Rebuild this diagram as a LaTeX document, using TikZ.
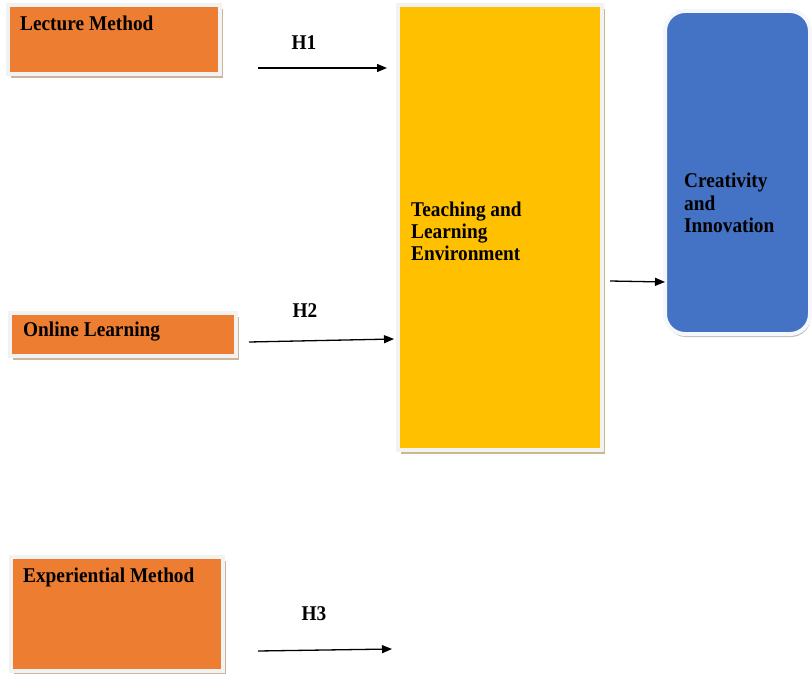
\documentclass[tikz,border=0pt]{standalone}
\usepackage{fontspec}
\setmainfont{Liberation Serif}[FakeStretch=0.92]
\usetikzlibrary{arrows.meta,shadows}
\definecolor{boxorange}{HTML}{ED7D31}
\definecolor{boxyellow}{HTML}{FFC000}
\definecolor{boxblue}{HTML}{4472C4}
\definecolor{framegray}{HTML}{F2F2F2}
\definecolor{tanshadow}{HTML}{CFB49C}
\definecolor{yelshadow}{HTML}{C9BA8C}
\definecolor{blueshadow}{HTML}{BDBDBD}
\tikzset{
  box/.style={draw=framegray, line width=4pt, inner sep=0pt, outer sep=0pt},
  orangebox/.style={box, fill=boxorange,
    drop shadow={shadow xshift=3pt, shadow yshift=-4pt, fill=tanshadow, opacity=1}},
  yellowbox/.style={box, fill=boxyellow,
    drop shadow={shadow xshift=3pt, shadow yshift=-4pt, fill=yelshadow, opacity=1}},
  bluebox/.style={box, draw=framegray!80!boxblue!20, fill=boxblue, rounded corners=20pt,
    drop shadow={shadow xshift=1pt, shadow yshift=-3pt, fill=blueshadow, opacity=1}},
  txt/.style={inner sep=0pt, anchor=base west, align=left,
    font=\bfseries\fontsize{21}{22.5}\selectfont},
  hyp/.style={inner sep=0pt, anchor=base,
    font=\bfseries\fontsize{21}{22.5}\selectfont},
  arr/.style={line width=1.3pt, -{Triangle[length=10pt,width=8pt]}}
}
\begin{document}
\begin{tikzpicture}[x=1pt,y=-1pt]
\useasboundingbox (0,0) rectangle (812,674);
% boxes
\node[orangebox, minimum width=212pt, minimum height=69pt] (lec) at (114,39.5) {};
\node[orangebox, minimum width=226pt, minimum height=43pt] (onl) at (123,334.5) {};
\node[orangebox, minimum width=212pt, minimum height=114pt] (exp) at (117,614) {};
\node[yellowbox, minimum width=204pt, minimum height=445pt] (tle) at (500,227.5) {};
\node[bluebox, minimum width=145pt, minimum height=323pt] (cre) at (737.5,172.5) {};
% texts (base anchor = last line)
\node[txt] (lect) at (20,31) {Lecture Method};
\node[txt] (onlt) at (23,336) {Online Learning};
\node[txt] (expt) at (23,582) {Experiential Method};
\node[txt] (tlet) at (411,261) {Teaching and\\Learning\\Environment};
\node[txt] (cret) at (684,233) {Creativity\\and\\Innovation};
% arrows
\coordinate (h1s) at (258,68);
\coordinate (h1e) at (387,68);
\coordinate (h2s) at (249,342);
\coordinate (h2e) at (394,339);
\coordinate (h3s) at (258,651);
\coordinate (h3e) at (392,649);
\coordinate (h4s) at (610,281);
\draw[arr] (h1s) -- (h1e);
\draw[arr] (h2s) -- (h2e);
\draw[arr] (h3s) -- (h3e);
\draw[arr] (h4s) -- (cre.west |- 0,282);
\node[hyp] (h1) at (304,50) {H1};
\node[hyp] (h2) at (305,317) {H2};
\node[hyp] (h3) at (314,620) {H3};
\end{tikzpicture}
\end{document}
